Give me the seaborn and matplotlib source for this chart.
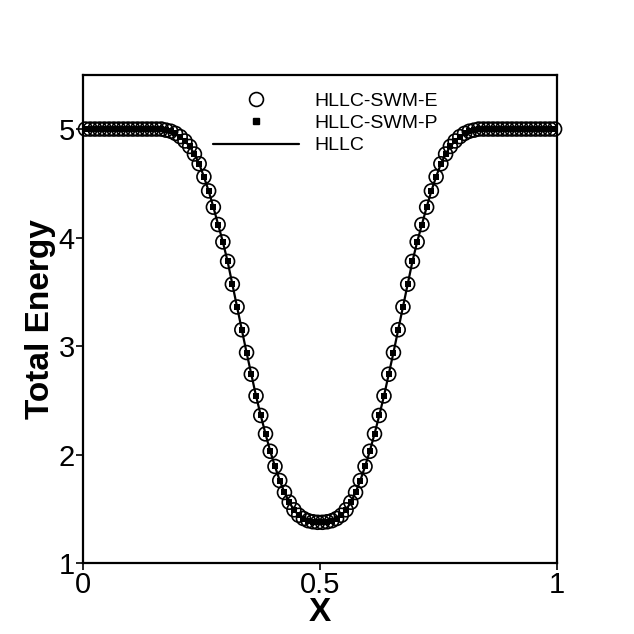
import matplotlib
matplotlib.use("Agg")
import matplotlib.pyplot as plt
import numpy as np
import pandas as pd
import seaborn as sns
from matplotlib.lines import Line2D

# cell centres of the 100-cell grid
x_cells = np.linspace(0.005, 0.995, 100)

# total energy (same for all three schemes)
energy_hllc = [
    5.00, 5.00, 5.00, 5.00, 5.00, 5.00, 5.00, 5.00, 5.00, 5.00,
    5.00, 5.00, 5.00, 5.00, 5.00, 5.00, 5.00, 4.99, 4.98, 4.96,
    4.93, 4.89, 4.84, 4.77, 4.68, 4.56, 4.43, 4.28, 4.12, 3.96,
    3.78, 3.57, 3.36, 3.15, 2.94, 2.74, 2.54, 2.36, 2.19, 2.03,
    1.89, 1.76, 1.65, 1.56, 1.49, 1.44, 1.41, 1.39, 1.38, 1.375,
    1.375, 1.38, 1.39, 1.41, 1.44, 1.49, 1.56, 1.65, 1.76, 1.89,
    2.03, 2.19, 2.36, 2.54, 2.74, 2.94, 3.15, 3.36, 3.57, 3.78,
    3.96, 4.12, 4.28, 4.43, 4.56, 4.68, 4.77, 4.84, 4.89, 4.93,
    4.96, 4.98, 4.99, 5.00, 5.00, 5.00, 5.00, 5.00, 5.00, 5.00,
    5.00, 5.00, 5.00, 5.00, 5.00, 5.00, 5.00, 5.00, 5.00, 5.00,
]
energy_swm_e = list(energy_hllc)
energy_swm_p = list(energy_hllc)

labels = ['HLLC-SWM-E', 'HLLC-SWM-P', 'HLLC']
x_ticks = [0, 0.5, 1]
x_tick_labels = ['0', '0.5', '1']
y_ticks = [1, 2, 3, 4, 5]

df = pd.DataFrame({'x': x_cells, 'e': energy_swm_e, 'p': energy_swm_p, 'hllc': energy_hllc})

sns.set_style("white")
plt.rcParams['font.family'] = ['Liberation Sans Narrow', 'Liberation Sans', 'DejaVu Sans']
plt.rcParams['text.color'] = 'black'
plt.rcParams['axes.labelcolor'] = 'black'
plt.rcParams['xtick.color'] = 'black'
plt.rcParams['ytick.color'] = 'black'

fig = plt.figure(figsize=(6.34, 6.34), dpi=100)
ax = fig.add_axes([0.131, 0.112, 0.7475, 0.770])

sns.lineplot(data=df, x='x', y='hllc', ax=ax, color='black', linewidth=1.6)
sns.scatterplot(data=df, x='x', y='e', ax=ax, marker='o', s=100,
                facecolor='none', edgecolor='black', linewidth=1.2, clip_on=False, zorder=3)
sns.scatterplot(data=df, x='x', y='p', ax=ax, marker='s', s=25,
                color='black', edgecolor='black', linewidth=0, clip_on=False, zorder=4)

ax.set_xlim(0, 1)
ax.set_ylim(1, 5.5)
ax.set_xticks(x_ticks)
ax.set_xticklabels(x_tick_labels)
ax.set_yticks(y_ticks)
ax.tick_params(direction='out', length=5, width=1.2, labelsize=21, pad=1,
               bottom=True, left=True, top=False, right=False)
for sp in ax.spines.values():
    sp.set_linewidth(1.6)
    sp.set_color('black')

ax.set_xlabel('X', fontsize=24, fontweight='bold', family=['Liberation Sans', 'DejaVu Sans'], labelpad=-2)
ax.set_ylabel('Total Energy', fontsize=24, fontweight='bold', family=['Liberation Sans', 'DejaVu Sans'], labelpad=2)

handles = [
    Line2D([], [], linestyle='none', marker='o', markersize=10, markerfacecolor='none',
           markeredgecolor='black', markeredgewidth=1.2),
    Line2D([], [], linestyle='none', marker='s', markersize=5, color='black'),
    Line2D([], [], color='black', linewidth=1.6),
]
ax.legend(handles, labels, loc='upper left', bbox_to_anchor=(0.336, 0.855),
          bbox_transform=fig.transFigure, frameon=False, fontsize=14,
          handlelength=4.4, handletextpad=0.8, labelspacing=0.25,
          borderpad=0, borderaxespad=0, numpoints=1)

fig.savefig('out.png', dpi=100)
